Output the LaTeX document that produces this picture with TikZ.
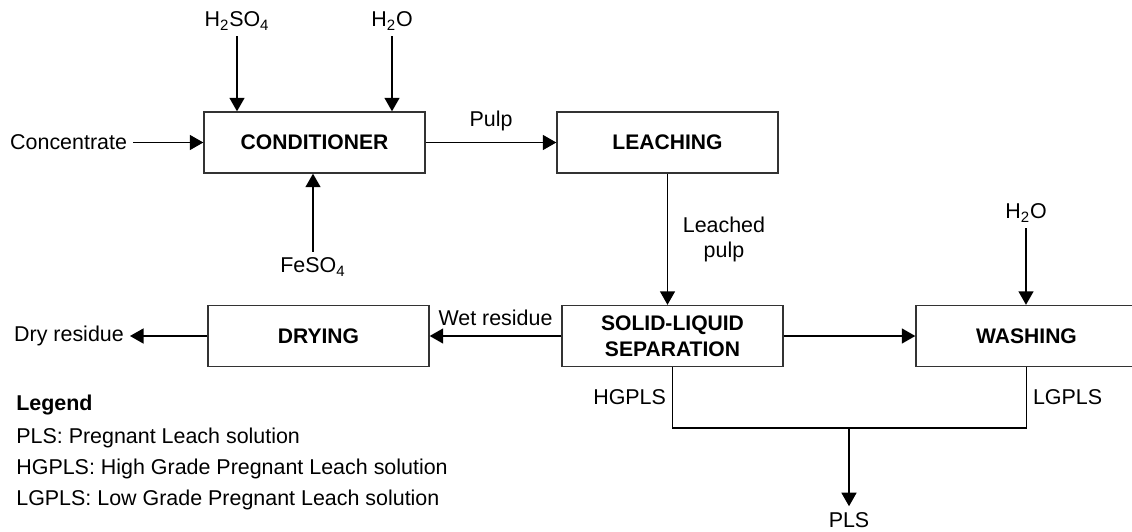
\documentclass[tikz,border=0pt]{standalone}
\usepackage{fontspec}
\setmainfont{Liberation Sans}
\usetikzlibrary{arrows.meta,positioning}

\begin{document}
\begin{tikzpicture}[
        x=0.02cm, y=-0.02cm,
        font=\fontsize{12.2}{14.5}\selectfont,
        box/.style={draw=black!80, line width=0.8pt, rectangle, minimum width=4.42cm, minimum height=1.22cm, align=center, font=\fontsize{12}{14.5}\selectfont\bfseries},
        arrow/.style={-{Triangle[length=0.27cm,width=0.3cm]}, line width=0.8pt},
        legendline/.style={anchor=west, inner sep=0pt}
    ]
        \useasboundingbox (0,0) rectangle (1132,531);

        % process blocks
        \node[box] (cond) at (314.5,142.5) {CONDITIONER};
        \node[box] (leach) at (667.5,142.5) {LEACHING};
        \node[box] (sep) at (672.5,336) {SOLID-LIQUID\\SEPARATION};
        \node[box] (dry) at (318.5,336) {DRYING};
        \node[box] (wash) at (1026.5,336) {WASHING};

        % feeds
        \node (h2so4) at (237,21) {H\textsubscript{2}SO\textsubscript{4}};
        \node (h2oa) at (392,21) {H\textsubscript{2}O};
        \node[anchor=west] (conc) at (4,142.5) {Concentrate};
        \node (feso4) at (313,267) {FeSO\textsubscript{4}};
        \node (h2ob) at (1026,213) {H\textsubscript{2}O};

        \draw[arrow] (h2so4) -- (h2so4 |- cond.north);
        \draw[arrow] (h2oa) -- (h2oa |- cond.north);
        \draw[arrow] (conc) -- (cond);
        \draw[arrow] (feso4) -- (feso4 |- cond.south);
        \draw[arrow] (h2ob) -- (h2ob |- wash.north);

        % main flow
        \draw[arrow] (cond) -- node[above=3pt] {Pulp} (leach);
        \draw[arrow] (leach.south) -- node[right=5pt, align=center] {Leached\\pulp} (leach.south |- sep.north);
        \draw[arrow] (sep.west) -- node[above=2pt] {Wet residue} (dry.east);
        \draw[arrow] (sep.east) -- (wash.west);

        \node[anchor=west] (dryres) at (8,336) {Dry residue};
        \draw[arrow] (dry.west) -- (dryres.east);

        % solution streams
        \coordinate (join) at (849,428);
        \node (pls) at (849,520) {PLS};
        \draw[line width=0.8pt] (sep.south) -- node[left] {HGPLS} (sep.south |- join) -- (wash.south |- join) -- node[right] {LGPLS} (wash.south);
        \draw[arrow] (join) -- (pls);

        % legend
        \node[legendline, font=\fontsize{12.2}{14.5}\selectfont\bfseries] (legend) at (16,405) {Legend};
        \node[legendline] (leg1) at (16,438) {PLS: Pregnant Leach solution};
        \node[legendline] (leg2) at (16,469) {HGPLS: High Grade Pregnant Leach solution};
        \node[legendline] (leg3) at (16,500) {LGPLS: Low Grade Pregnant Leach solution};
\end{tikzpicture}
\end{document}
